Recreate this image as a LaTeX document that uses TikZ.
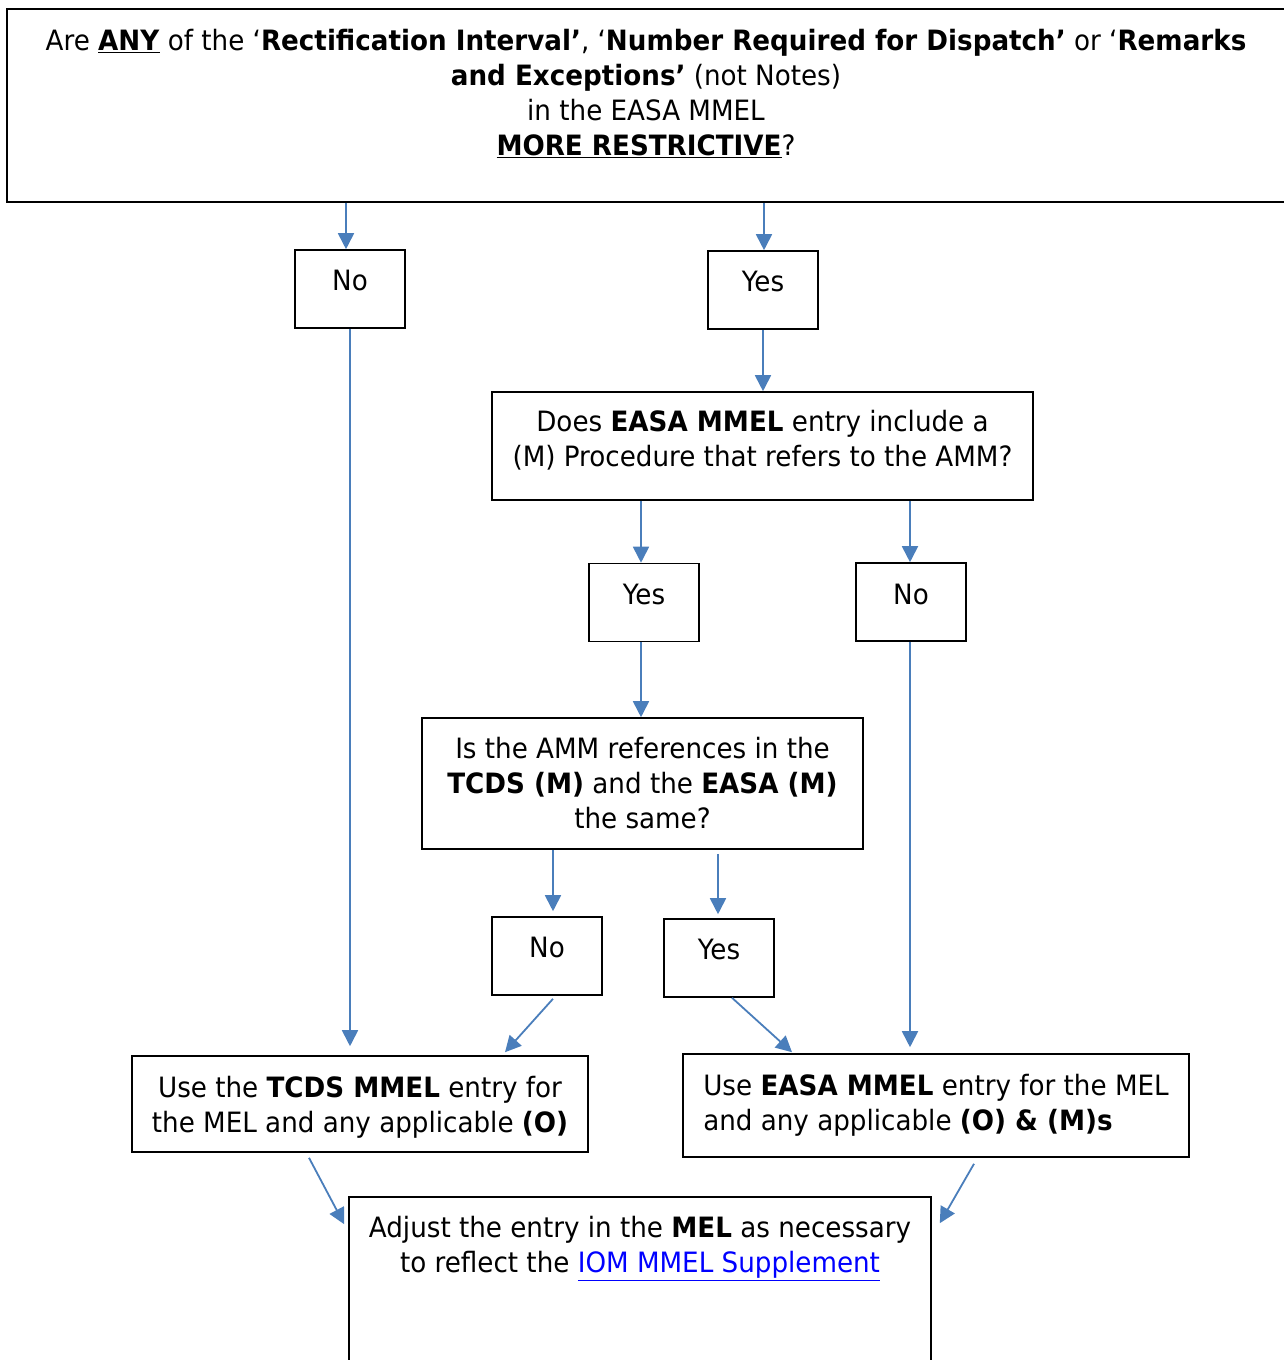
\documentclass[tikz,border=0pt]{standalone}
\usepackage{fontspec}
\setmainfont[FakeStretch=0.935]{DejaVu Sans}
\usepackage{tikz}
\usetikzlibrary{arrows.meta,calc}
\definecolor{flowblue}{HTML}{4A7EBB}
\definecolor{linkblue}{HTML}{0000FF}
% extra depth below the last line, lifts the text inside its box
\newcommand{\padbelow}[1]{\rule[-#1pt]{0pt}{0pt}}

\begin{document}
\begin{tikzpicture}[x=1pt,y=-1pt,
    box/.style={draw, line width=1.6pt, inner sep=0pt, align=center,
        font=\fontsize{28}{35}\selectfont},
    ans/.style={box, minimum width=110pt, minimum height=78pt},
    flow/.style={draw=flowblue, line width=1.8pt,
        -{Triangle[length=16pt,width=16pt]}}]
\useasboundingbox (0,0) rectangle (1283,1360);

%Nodes
\node[box, minimum width=1278pt, minimum height=193pt] (q1) at (646,105.5)
    {Are \underline{\textbf{ANY}} of the ‘\textbf{Rectification Interval’}, ‘\textbf{Number Required for Dispatch’} or ‘\textbf{Remarks}\\
     \textbf{and Exceptions’} (not Notes)\\
     in the EASA MMEL\\
     \underline{\textbf{MORE RESTRICTIVE}}?\padbelow{26}};
\node[ans] (a1) at (350,289)   {No\padbelow{18}};
\node[ans] (a2) at (763,290)   {Yes\padbelow{18}};
\node[box, minimum width=541pt, minimum height=108pt] (q2) at (762.5,446)
    {Does \textbf{EASA MMEL} entry include a\\
     (M) Procedure that refers to the AMM?\padbelow{15}};
\node[ans] (a3) at (644,602.5) {Yes\padbelow{17}};
\node[ans] (a4) at (911,602)   {No\padbelow{16}};
\node[box, minimum width=441pt, minimum height=131pt] (q3) at (642.5,783.5)
    {Is the AMM references in the\\
     \textbf{TCDS (M)} and the \textbf{EASA (M)}\\
     the same?};
\node[ans] (a5) at (547,956)   {No\padbelow{18}};
\node[ans] (a6) at (719,958)   {Yes\padbelow{18}};
\node[box, minimum width=456pt, minimum height=96pt] (r1) at (360,1104)
    {\rule{0pt}{27pt}Use the \textbf{TCDS MMEL} entry for\\
     the MEL and any applicable \textbf{(O)}};
\node[box, align=left, minimum width=506pt, minimum height=103pt] (r2) at (936,1105.5)
    {Use \textbf{EASA MMEL} entry for the MEL\\
     and any applicable \textbf{(O) \& (M)s}\padbelow{6}};
\node[box, minimum width=582pt, minimum height=223pt] (r3) at (640,1308.5)
    {Adjust the entry in the \textbf{MEL} as necessary\\
     to reflect the \textcolor{linkblue}{\underline{IOM MMEL Supplement}}\padbelow{128}};

%Lines
\draw[flow] ($(q1.south -| a1)+(-4,0)$) -- ($(a1.north)+(-4,0)$);
\draw[flow] ($(q1.south -| a2)+(1,0)$) -- ($(a2.north)+(1,0)$);
\draw[flow] (a2.south) -- (a2.south |- q2.north);
\draw[flow] ($(q2.south -| a3)+(-3,0)$) -- ($(a3.north)+(-3,0)$);
\draw[flow] ($(q2.south -| a4)+(-1,0)$) -- ($(a4.north)+(-1,0)$);
\draw[flow] ($(a3.south)+(-3,0)$) -- ($(a3.south |- q3.north)+(-3,0)$);
\draw[flow] ($(q3.south -| a5)+(6,0)$) -- ($(a5.north)+(6,-5)$);
\draw[flow] ($(q3.south -| a6)+(-1,4)$) -- ($(a6.north)+(-1,-4)$);
\draw[flow] (a1.south) -- ($(a1.south |- r1.north)+(0,-9)$);
\draw[flow] ($(a5.south)+(6,3)$) -- ($(r1.north)+(145,-3)$);
\draw[flow] ($(a6.south)+(13,0)$) -- ($(r2.north)+(-144,-1)$);
\draw[flow] ($(a4.south)+(-1,0)$) -- ($(a4.south |- r2.north)+(-1,-6)$);
\draw[flow] ($(r1.south)+(-51,5)$) -- ($(r3.north west)+(-4,28)$);
\draw[flow] ($(r2.south)+(38,6)$) -- ($(r3.north east)+(8,27)$);
\end{tikzpicture}
\end{document}
